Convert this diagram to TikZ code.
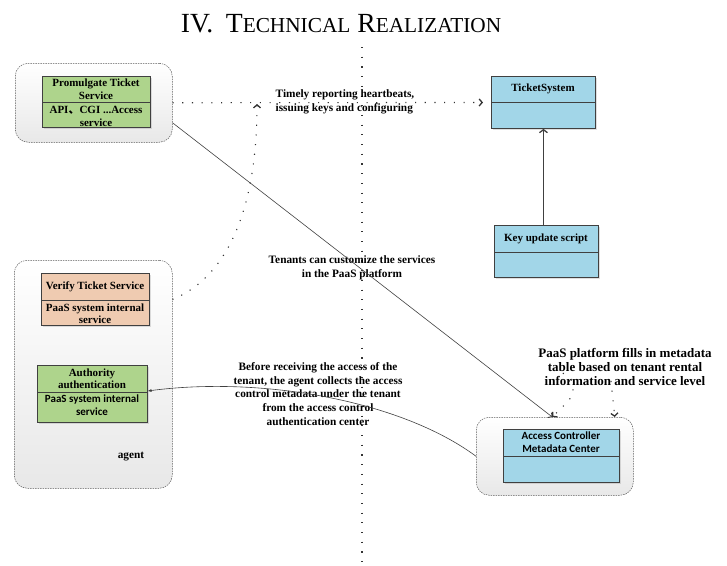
\documentclass[tikz,border=0pt]{standalone}
\usepackage{fontspec}
\setmainfont{Liberation Serif}
\newfontfamily\calfont{Carlito}
\newfontfamily\cjkfont{Noto Sans CJK SC}
\usetikzlibrary{arrows.meta,shadows}
\definecolor{boxgreen}{HTML}{AED48C}
\definecolor{boxblue}{HTML}{A2D6E8}
\definecolor{boxpeach}{HTML}{EFCBB1}
\definecolor{edge}{HTML}{404040}
\tikzset{
  grp/.style={draw=black!65, dash pattern=on 1.5pt off 1pt, line width=0.5pt,
    rounded corners=13pt, top color=white, bottom color=black!9,
    anchor=north west, inner sep=0pt},
  cls/.style={draw=edge, line width=0.9pt, anchor=north west, inner sep=0pt,
    drop shadow={shadow xshift=1.2pt, shadow yshift=-1.2pt, opacity=0.25}},
  divider/.style={draw=edge, line width=0.9pt},
  txt/.style={font=\bfseries\fontsize{11}{12.5}\selectfont, align=center, inner sep=0pt},
  note/.style={font=\bfseries\fontsize{11.3}{13.7}\selectfont, align=center, inner sep=0pt},
  bignote/.style={font=\bfseries\fontsize{13}{14}\selectfont, align=center, inner sep=0pt},
  sanstxt/.style={font=\calfont\bfseries\fontsize{11}{13}\selectfont, align=center, inner sep=0pt},
  dots/.style={draw=black!80, line width=1.1pt, dash pattern=on 1.1pt off 8.6pt},
  conn/.style={draw=edge, line width=0.6pt},
  chev/.tip={Straight Barb[length=3pt,width=7pt,line width=1.3pt]},
  smallchev/.tip={Straight Barb[length=2.5pt,width=6pt,line width=0.9pt]},
}
\begin{document}
\begin{tikzpicture}[x=1pt,y=-1pt]
\useasboundingbox (0,0) rectangle (727,565);

% heading
\node[anchor=base, inner sep=0pt] (title) at (341,32)
  {\fontsize{27.7}{28}\selectfont IV.\hspace{0.45em}T{\fontsize{21.3}{22}\selectfont ECHNICAL}
   R{\fontsize{21.3}{22}\selectfont EALIZATION}};

% central dotted separator
\coordinate (vtop) at (362,47);
\coordinate (vbot) at (362,565);
\draw[dots] (vtop) -- (vbot);

% group containers
\node[grp, minimum width=157pt, minimum height=79pt] (promgrp) at (15,63) {};
\node[grp, minimum width=158pt, minimum height=228pt] (agentgrp) at (14,260) {};
\node[grp, minimum width=157pt, minimum height=78pt] (accgrp) at (476,417) {};

% Promulgate Ticket Service
\node[cls, fill=boxgreen, minimum width=108pt, minimum height=51pt] (prom) at (42,76) {};
\draw[divider] ([yshift=-26pt]prom.north west) -- ([yshift=-26pt]prom.north east);
\node[txt] (promA) at (96,89) {Promulgate Ticket\\Service};
\node[txt] (promB) at (96,116.5) {API{\cjkfont 、}CGI ...Access\\service};

% TicketSystem
\node[cls, fill=boxblue, minimum width=104pt, minimum height=52pt] (ticket) at (491,76) {};
\draw[divider] ([yshift=-26pt]ticket.north west) -- ([yshift=-26pt]ticket.north east);
\node[txt] (ticketA) at (543,88.5) {TicketSystem};

% Key update script
\node[cls, fill=boxblue, minimum width=104pt, minimum height=52pt] (key) at (494,225) {};
\draw[divider] ([yshift=-27pt]key.north west) -- ([yshift=-27pt]key.north east);
\node[txt] (keyA) at (546,238.5) {Key update script};

% Verify Ticket Service
\node[cls, fill=boxpeach, minimum width=108pt, minimum height=52pt] (verify) at (41,273) {};
\draw[divider] ([yshift=-27pt]verify.north west) -- ([yshift=-27pt]verify.north east);
\node[txt] (verifyA) at (95,286.5) {Verify Ticket Service};
\node[txt] (verifyB) at (95,313.5) {PaaS system internal\\service};

% Authority authentication
\node[cls, fill=boxgreen, minimum width=110pt, minimum height=57pt] (auth) at (37,365) {};
\draw[divider] ([yshift=-27pt]auth.north west) -- ([yshift=-27pt]auth.north east);
\node[txt] (authA) at (92,378.5) {Authority\\authentication};
\node[sanstxt] (authB) at (92,405) {PaaS system internal\\service};

\node[note] (agentlbl) at (131,457) {agent};

% Access Controller Metadata Center
\node[cls, fill=boxblue, minimum width=116pt, minimum height=53pt] (acc) at (503,429) {};
\draw[divider] ([yshift=-27pt]acc.north west) -- ([yshift=-27pt]acc.north east);
\node[sanstxt] (accA) at (561,442.5) {Access Controller\\Metadata Center};

% annotations
\node[note, align=left] (heart) at (345,101.5) {Timely reporting heartbeats,\\issuing keys and configuring};
\node[note] (tenant) at (352,268) {Tenants can customize the services\\in the PaaS platform};
\node[note] (collect) at (318,394) {Before receiving the access of the\\tenant, the agent collects the access\\control metadata under the tenant\\from the access control\\authentication center};
\node[bignote] (fill) at (625,367) {PaaS platform fills in metadata\\table based on tenant rental\\information and service level};

% connectors
\draw[dots, -chev] (promgrp.east) -- ([xshift=-8pt]ticket.west);
\coordinate (uptip) at (257,104);
\draw[dots, -chev] (verify.east -| agentgrp.east) .. controls (232,275) and (257,200) .. (uptip);
\draw[conn, -smallchev] ([yshift=-20pt]promgrp.east) -- ([xshift=-2.5pt]accgrp.north);
\draw[line width=1.8pt, edge, -{Straight Barb[length=3pt,width=8pt,line width=1.3pt]}]
  (key.north -| ticket.south) -- (ticket.south);
\coordinate (fillL) at (563,373);
\coordinate (fillR) at (611,381);
\draw[dots, -chev] (fillL) .. controls (578,392) .. ([xshift=-2.5pt]accgrp.north);
\draw[dots, -chev] (fillR) -- ([xshift=60pt]accgrp.north);
\draw[conn, -{Stealth[length=4pt,width=3pt,fill=boxgreen!60!black]}]
  (accgrp.west) .. controls (400,400) and (260,376) .. ([yshift=3pt]auth.east);
\end{tikzpicture}
\end{document}
